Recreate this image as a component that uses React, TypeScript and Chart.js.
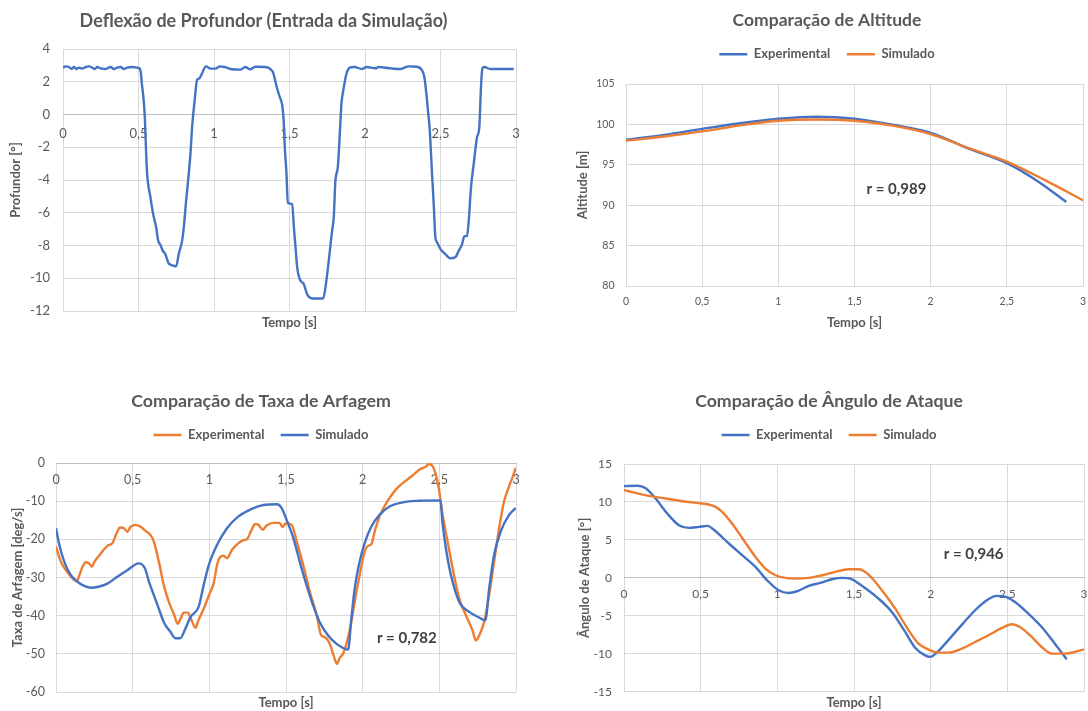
import React, { useEffect, useRef } from "react";
import { Chart, registerables } from "chart.js";

Chart.register(...registerables);

const BLUE = "#4472C4";
const ORANGE = "#ED7D31";
const TEXT = "#595959";
const GRID = "#D9D9D9";
const AXIS = "#BFBFBF";
const FONT = "Lato, 'Open Sans', sans-serif";

// ---------- Chart 1: Deflexão de Profundor ----------
const elevTime = [
  0, 0.018, 0.04, 0.057, 0.073, 0.088, 0.106, 0.128, 0.15, 0.172, 0.194, 0.211, 0.227, 0.249, 0.282, 0.315,
  0.337, 0.359, 0.381, 0.403, 0.425, 0.458, 0.491, 0.502, 0.515, 0.522, 0.533, 0.542, 0.55, 0.557, 0.579,
  0.597, 0.617, 0.63, 0.645, 0.661, 0.678, 0.7, 0.722, 0.749, 0.767, 0.789, 0.8, 0.815, 0.833, 0.844, 0.855,
  0.872, 0.888, 0.903, 0.92, 0.947, 0.976, 1.009, 1.04, 1.07, 1.12, 1.174, 1.207, 1.24, 1.273, 1.34, 1.372,
  1.394, 1.41, 1.432, 1.45, 1.46, 1.47, 1.48, 1.489, 1.518, 1.529, 1.54, 1.551, 1.568, 1.595, 1.617, 1.65,
  1.683, 1.723, 1.738, 1.76, 1.782, 1.793, 1.804, 1.82, 1.833, 1.844, 1.86, 1.877, 1.9, 1.93, 1.98, 2.01,
  2.07, 2.09, 2.168, 2.235, 2.29, 2.345, 2.378, 2.393, 2.404, 2.418, 2.429, 2.444, 2.455, 2.466, 2.477, 2.5,
  2.532, 2.565, 2.6, 2.62, 2.643, 2.658, 2.676, 2.687, 2.702, 2.72, 2.742, 2.757, 2.768, 2.777, 2.79, 2.83,
  2.985,
];
const elevDeg = [
  2.86, 2.94, 2.9, 2.78, 2.9, 2.78, 2.86, 2.8, 2.9, 2.94, 2.86, 2.78, 2.9, 2.82, 2.78, 2.9,
  2.78, 2.86, 2.9, 2.78, 2.86, 2.9, 2.86, 2.84, 2.6, 1.9, 1.0, -0.2, -2.2, -3.6, -5.06,
  -6.08, -6.9, -7.7, -7.96, -8.33, -8.53, -9.1, -9.2, -9.27, -8.5, -7.7, -6.9, -5.3, -3.6, -2.4, -0.78,
  0.86, 2.12, 2.2, 2.5, 2.94, 2.8, 2.8, 2.94, 2.9, 2.76, 2.74, 2.9, 2.76, 2.92, 2.9, 2.78,
  2.5, 1.88, 1.16, 0.65, -0.16, -2.2, -3.6, -5.4, -5.47, -6.9, -8.1, -9.35, -10.06, -10.37, -10.98, -11.24,
  -11.24, -11.24, -10.57, -8.94, -7.1, -6.29, -4.04, -3.22, -1.18, 0.65, 1.67, 2.49, 2.86, 2.9, 2.78, 2.9,
  2.82, 2.9, 2.82, 2.78, 2.94, 2.92, 2.69, 2.29, 1.47, 0.14, -0.98, -3.63, -5.47, -7.5, -7.8, -8.22,
  -8.53, -8.78, -8.7, -8.33, -7.92, -7.43, -7.43, -6.49, -4.45, -3.02, -1.39, -0.78, 1.67, 2.8, 2.9, 2.78,
  2.78,
];

// ---------- Chart 2: Altitude ----------
const altExpTime = [0, 0.25, 0.5, 0.75, 1.0, 1.25, 1.5, 1.75, 2.0, 2.25, 2.5, 2.7, 2.89];
const altExp = [98.1, 98.7, 99.45, 100.15, 100.7, 100.95, 100.7, 99.95, 98.95, 97.0, 95.2, 93.0, 90.4];
const altSimTime = [0, 0.25, 0.5, 0.75, 1.0, 1.25, 1.5, 1.75, 2.0, 2.25, 2.5, 2.75, 3.0];
const altSim = [97.98, 98.5, 99.13, 99.88, 100.45, 100.6, 100.45, 99.85, 98.8, 97.05, 95.4, 93.1, 90.6];

// ---------- Chart 3: Taxa de Arfagem ----------
const pitchExpTime = [
  0, 0.032, 0.076, 0.136, 0.152, 0.173, 0.195, 0.216, 0.234, 0.249, 0.292, 0.335, 0.368, 0.39, 0.418, 0.444,
  0.465, 0.487, 0.52, 0.552, 0.584, 0.617, 0.638, 0.671, 0.703, 0.736, 0.768, 0.794, 0.812, 0.833, 0.86, 0.88,
  0.91, 0.924, 0.963, 1.006, 1.028, 1.05, 1.071, 1.093, 1.115, 1.147, 1.19, 1.223, 1.245, 1.27, 1.3, 1.32,
  1.348, 1.374, 1.418, 1.457, 1.478, 1.5, 1.537, 1.57, 1.613, 1.656, 1.7, 1.73, 1.753, 1.786, 1.81, 1.833,
  1.85, 1.872, 1.894, 1.926, 1.948, 1.98, 2.013, 2.035, 2.056, 2.078, 2.11, 2.154, 2.197, 2.24, 2.283, 2.327,
  2.37, 2.413, 2.435, 2.457, 2.478, 2.5, 2.52, 2.554, 2.587, 2.63, 2.673, 2.717, 2.738, 2.76, 2.792, 2.825,
  2.857, 2.89, 2.922, 2.955, 2.976, 2.998,
];
const pitchExp = [
  -21.9, -25.9, -28.7, -31.0, -29.4, -27.2, -26.0, -26.3, -27.2, -26.0, -23.7, -21.7, -21.0, -18.9, -16.9, -17.1,
  -18.0, -16.7, -16.2, -16.7, -17.8, -18.9, -20.6, -25.9, -32.0, -36.4, -39.5, -42.1, -40.8, -39.2, -39.2, -40.8,
  -43.2, -41.7, -38.2, -33.8, -31.6, -26.8, -24.6, -24.3, -25.0, -22.8, -21.0, -20.2, -20.0, -18.0, -16.0, -16.2,
  -17.5, -16.4, -15.7, -15.7, -16.7, -15.8, -16.2, -20.6, -26.8, -33.8, -39.9, -45.2, -45.6, -47.4, -50.4, -52.6,
  -51.1, -50.0, -47.4, -41.7, -36.4, -29.4, -23.2, -21.7, -21.3, -18.0, -14.0, -10.5, -7.9, -6.0, -4.6, -3.2,
  -1.75, -0.9, -0.26, -0.9, -3.1, -7.5, -13.2, -20.6, -27.6, -35.5, -39.9, -43.9, -46.5, -45.2, -41.7, -34.6,
  -25.9, -17.1, -10.1, -6.1, -3.9, -1.3,
];
const pitchSimTime = [
  0, 0.022, 0.054, 0.097, 0.14, 0.184, 0.227, 0.27, 0.335, 0.4, 0.465, 0.54, 0.58, 0.606, 0.638, 0.671,
  0.703, 0.747, 0.779, 0.81, 0.844, 0.877, 0.93, 0.963, 0.996, 1.05, 1.115, 1.19, 1.277, 1.353, 1.44, 1.472,
  1.504, 1.548, 1.59, 1.634, 1.677, 1.72, 1.775, 1.83, 1.905, 1.926, 1.948, 1.98, 2.013, 2.056, 2.11, 2.175,
  2.262, 2.37, 2.507, 2.52, 2.543, 2.576, 2.63, 2.695, 2.76, 2.8, 2.825, 2.857, 2.9, 2.955, 2.998,
];
const pitchSim = [
  -17.1, -21.5, -25.9, -29.4, -31.1, -32.2, -32.7, -32.5, -31.6, -29.8, -28.1, -26.3, -27.6, -31.1, -34.6, -38.2,
  -41.7, -44.3, -45.9, -45.9, -43.4, -40.4, -37.7, -32.0, -26.8, -21.5, -17.1, -14.0, -12.0, -11.0, -10.8, -11.8,
  -14.9, -19.7, -25.9, -32.0, -37.3, -41.7, -45.2, -47.4, -48.9, -40.8, -32.9, -25.9, -21.0, -16.7, -13.6, -11.4,
  -10.3, -9.9, -9.8, -15.4, -22.4, -29.4, -36.4, -39.0, -40.5, -41.2, -32.9, -24.1, -18.0, -13.6, -11.8,
];

// ---------- Chart 4: Ângulo de Ataque ----------
const aoaExpTime = [
  0, 0.087, 0.141, 0.206, 0.282, 0.358, 0.423, 0.488, 0.543, 0.597, 0.684, 0.77, 0.857, 0.933, 1.009, 1.074,
  1.129, 1.205, 1.28, 1.357, 1.422, 1.487, 1.552, 1.66, 1.747, 1.834, 1.9, 1.964, 1.997, 2.04, 2.095, 2.181,
  2.29, 2.366, 2.43, 2.485, 2.55, 2.637, 2.724, 2.81, 2.887,
];
const aoaExp = [
  12.08, 12.13, 11.8, 10.46, 8.48, 6.94, 6.59, 6.72, 6.85, 6.15, 4.53, 3.0, 1.45, -0.31, -1.63, -1.98,
  -1.76, -1.05, -0.66, -0.18, 0.0, -0.18, -1.05, -2.72, -4.48, -7.12, -9.23, -10.2, -10.4, -9.84, -8.66, -6.68,
  -4.26, -2.94, -2.37, -2.46, -3.16, -4.7, -6.46, -8.66, -10.72,
];
const aoaSimTime = [
  0, 0.076, 0.163, 0.271, 0.38, 0.488, 0.553, 0.597, 0.64, 0.705, 0.781, 0.857, 0.922, 0.988, 1.053, 1.118,
  1.205, 1.292, 1.378, 1.465, 1.53, 1.595, 1.682, 1.769, 1.856, 1.921, 1.986, 2.051, 2.116, 2.203, 2.29, 2.377,
  2.464, 2.529, 2.583, 2.659, 2.724, 2.789, 2.876, 2.941, 3.0,
];
const aoaSim = [
  11.56, 11.2, 10.8, 10.46, 10.1, 9.84, 9.67, 9.36, 8.7, 7.16, 4.96, 2.77, 1.23, 0.35, 0.0, -0.09,
  0.0, 0.35, 0.79, 1.14, 1.14, 0.44, -1.63, -4.04, -6.9, -8.66, -9.45, -9.84, -9.84, -9.31, -8.44, -7.56,
  -6.59, -6.1, -6.46, -7.78, -9.1, -9.97, -9.97, -9.75, -9.4,
];

const xTicks = [0, 0.5, 1, 1.5, 2, 2.5, 3];

const fmtX = (v: number | string) => {
  const n = Number(v);
  return xTicks.includes(n) ? String(n).replace(".", ",") : "";
};

const rLabelPlugin = {
  id: "rLabel",
  afterDatasetsDraw(chart: any, _args: any, opts: any) {
    if (!opts || !opts.text) return;
    const { ctx, scales } = chart;
    const px = scales.x.getPixelForValue(opts.x);
    const py = scales.y.getPixelForValue(opts.y);
    ctx.save();
    ctx.font = `bold 15px ${FONT}`;
    ctx.fillStyle = "#404040";
    ctx.textAlign = "center";
    ctx.textBaseline = "middle";
    ctx.fillText(opts.text, px, py);
    ctx.restore();
  },
};

type Geo = { left: number; top: number; w: number; h: number; pl: number; pt: number; pr: number; pb: number };

type Series = { label: string; xs: number[]; ys: number[]; color: string; order: number };

type Spec = {
  geo: Geo;
  title: string;
  titleSize: number;
  titleCenter: number;
  legend: boolean;
  legendCenter: number;
  series: Series[];
  yMin: number;
  yMax: number;
  yStep: number;
  yTitle: string;
  yTitlePad: number;
  yTickPad: number;
  tickSize: number;
  xAtZero: boolean;
  xTickPad: number;
  xTitlePadBottom: number;
  r?: { x: number; y: number; text: string };
};

const LEGEND_FONT = 13;

function makeConfig(s: Spec): any {
  const g = s.geo;
  const tickFont = { family: FONT, size: s.tickSize };
  const axisTitleFont = { family: FONT, size: 13, weight: "bold" as const };

  // vertical layout of the header boxes
  const titleLH = s.titleSize * 1.2;
  const titlePadTop = s.titleCenter - titleLH / 2;
  let titlePadBottom = 0;
  let legendPad = 10;
  let spacer = 0;
  if (s.legend) {
    const titleBottom = titlePadTop + titleLH;
    legendPad = s.legendCenter - titleBottom - LEGEND_FONT / 2;
    const legendBottom = titleBottom + LEGEND_FONT + legendPad + 10;
    spacer = Math.max(g.pt - legendBottom, 1);
  } else {
    titlePadBottom = g.pt - titlePadTop - titleLH;
  }

  const xTickOpts = {
    stepSize: 0.5,
    autoSkip: false,
    maxRotation: 0,
    color: TEXT,
    font: tickFont,
    padding: s.xTickPad,
    callback: fmtX,
  };
  const scales: any = {
    x: {
      type: "linear",
      min: 0,
      max: 3,
      position: "bottom",
      ticks: s.xAtZero ? { display: false, stepSize: 0.5, autoSkip: false } : xTickOpts,
      grid: { color: GRID, drawTicks: false, lineWidth: 1 },
      border: { display: false },
      title: {
        display: true,
        text: "Tempo [s]",
        color: TEXT,
        font: axisTitleFont,
        padding: { top: 0, bottom: s.xTitlePadBottom },
      },
      afterFit: (sc: any) => {
        sc.height = g.h - g.pb;
        sc.paddingLeft = 0;
        sc.paddingRight = g.w - g.pr;
      },
    },
    y: {
      type: "linear",
      min: s.yMin,
      max: s.yMax,
      ticks: { stepSize: s.yStep, color: TEXT, font: tickFont, padding: s.yTickPad, autoSkip: false },
      grid: { color: GRID, drawTicks: false, lineWidth: 1 },
      border: { display: false },
      title: {
        display: true,
        text: s.yTitle,
        color: TEXT,
        font: axisTitleFont,
        padding: { top: s.yTitlePad, bottom: 0 },
      },
      afterFit: (sc: any) => {
        sc.width = g.pl;
      },
    },
  };
  if (s.xAtZero) {
    scales.x2 = {
      type: "linear",
      axis: "x",
      min: 0,
      max: 3,
      position: { y: 0 },
      ticks: xTickOpts,
      grid: { display: true, color: "rgba(0,0,0,0)", drawTicks: false },
      border: { display: true, color: AXIS, width: 1 },
      afterFit: (sc: any) => {
        sc.paddingLeft = 0;
        sc.paddingRight = 0;
      },
    };
  }
  return {
    type: "line",
    data: {
      datasets: s.series.map((d) => ({
        label: d.label,
        data: d.xs.map((x, i) => ({ x, y: d.ys[i] })),
        borderColor: d.color,
        backgroundColor: d.color,
        borderWidth: 2.4,
        pointRadius: 0,
        pointHoverRadius: 0,
        cubicInterpolationMode: "monotone",
        borderJoinStyle: "round",
        order: d.order,
        xAxisID: "x",
        yAxisID: "y",
      })),
    },
    options: {
      responsive: false,
      maintainAspectRatio: false,
      devicePixelRatio: 1,
      animation: false,
      events: [],
      layout: { padding: 0 },
      scales,
      plugins: {
        title: {
          display: true,
          text: s.title,
          color: TEXT,
          font: { family: FONT, size: s.titleSize, weight: "bold" },
          padding: { top: titlePadTop, bottom: titlePadBottom },
        },
        subtitle: {
          display: s.legend,
          text: "",
          weight: 900,
          font: { family: FONT, size: 1, lineHeight: 1 },
          padding: { top: spacer - 1, bottom: 0 },
        },
        legend: {
          display: s.legend,
          position: "top",
          weight: 1000,
          labels: {
            usePointStyle: true,
            pointStyle: "line",
            pointStyleWidth: 28,
            color: TEXT,
            font: { family: FONT, size: LEGEND_FONT, weight: "bold" },
            padding: legendPad,
            sort: (a: any, b: any) => a.datasetIndex - b.datasetIndex,
          },
        },
        tooltip: { enabled: false },
        rLabel: s.r || {},
      },
    },
    plugins: [rLabelPlugin],
  };
}

const specs: Spec[] = [
  {
    geo: { left: 0, top: 0, w: 527, h: 340, pl: 63, pt: 49, pr: 516, pb: 311 },
    title: "Deflexão de Profundor (Entrada da Simulação)",
    titleSize: 18,
    titleCenter: 20.7,
    legend: false,
    legendCenter: 0,
    series: [{ label: "Profundor", xs: elevTime, ys: elevDeg, color: BLUE, order: 1 }],
    yMin: -12,
    yMax: 4,
    yStep: 2,
    yTitle: "Profundor [°]",
    yTitlePad: 8.2,
    yTickPad: 13,
    tickSize: 13,
    xAtZero: true,
    xTickPad: 12,
    xTitlePadBottom: 9.5,
  },
  {
    geo: { left: 566, top: 0, w: 522, h: 340, pl: 60, pt: 84, pr: 517, pb: 286 },
    title: "Comparação de Altitude",
    titleSize: 17.5,
    titleCenter: 20.7,
    legend: true,
    legendCenter: 54.3,
    series: [
      { label: "Experimental", xs: altExpTime, ys: altExp, color: BLUE, order: 2 },
      { label: "Simulado", xs: altSimTime, ys: altSim, color: ORANGE, order: 1 },
    ],
    yMin: 80,
    yMax: 105,
    yStep: 5,
    yTitle: "Altitude [m]",
    yTitlePad: 9.2,
    yTickPad: 11.5,
    tickSize: 10.5,
    xAtZero: false,
    xTickPad: 9.4,
    xTitlePadBottom: 9.5,
    r: { x: 1.775, y: 92.0, text: "r = 0,989" },
  },
  {
    geo: { left: 0, top: 380, w: 522, h: 331, pl: 56, pt: 83, pr: 516, pb: 312 },
    title: "Comparação de Taxa de Arfagem",
    titleSize: 17.8,
    titleCenter: 21.7,
    legend: true,
    legendCenter: 55,
    series: [
      { label: "Experimental", xs: pitchExpTime, ys: pitchExp, color: ORANGE, order: 2 },
      { label: "Simulado", xs: pitchSimTime, ys: pitchSim, color: BLUE, order: 1 },
    ],
    yMin: -60,
    yMax: 0,
    yStep: 10,
    yTitle: "Taxa de Arfagem [deg/s]",
    yTitlePad: 10.2,
    yTickPad: 11,
    tickSize: 12.5,
    xAtZero: true,
    xTickPad: 9.5,
    xTitlePadBottom: 0,
    r: { x: 2.288, y: -46.0, text: "r = 0,782" },
  },
  {
    geo: { left: 570, top: 380, w: 518, h: 331, pl: 54, pt: 84, pr: 514, pb: 312 },
    title: "Comparação de Ângulo de Ataque",
    titleSize: 17.7,
    titleCenter: 21.7,
    legend: true,
    legendCenter: 55,
    series: [
      { label: "Experimental", xs: aoaExpTime, ys: aoaExp, color: BLUE, order: 2 },
      { label: "Simulado", xs: aoaSimTime, ys: aoaSim, color: ORANGE, order: 1 },
    ],
    yMin: -15,
    yMax: 15,
    yStep: 5,
    yTitle: "Ângulo de Ataque [°]",
    yTitlePad: 7.2,
    yTickPad: 12,
    tickSize: 12,
    xAtZero: true,
    xTickPad: 8.8,
    xTitlePadBottom: 0,
    r: { x: 2.28, y: 3.12, text: "r = 0,946" },
  },
];

function ChartBox({ spec }: { spec: Spec }) {
  const ref = useRef<HTMLCanvasElement | null>(null);
  useEffect(() => {
    if (!ref.current) return;
    const chart = new Chart(ref.current, makeConfig(spec));
    return () => chart.destroy();
  }, [spec]);
  const g = spec.geo;
  return (
    <div style={{ position: "absolute", left: g.left, top: g.top, width: g.w, height: g.h }}>
      <canvas ref={ref} width={g.w} height={g.h} style={{ display: "block", width: g.w, height: g.h }} />
    </div>
  );
}

export default function App() {
  return (
    <div style={{ position: "absolute", left: 0, top: 0, width: 1088, height: 711, background: "#FFFFFF", overflow: "hidden" }}>
      {specs.map((s, i) => (
        <ChartBox key={i} spec={s} />
      ))}
    </div>
  );
}
